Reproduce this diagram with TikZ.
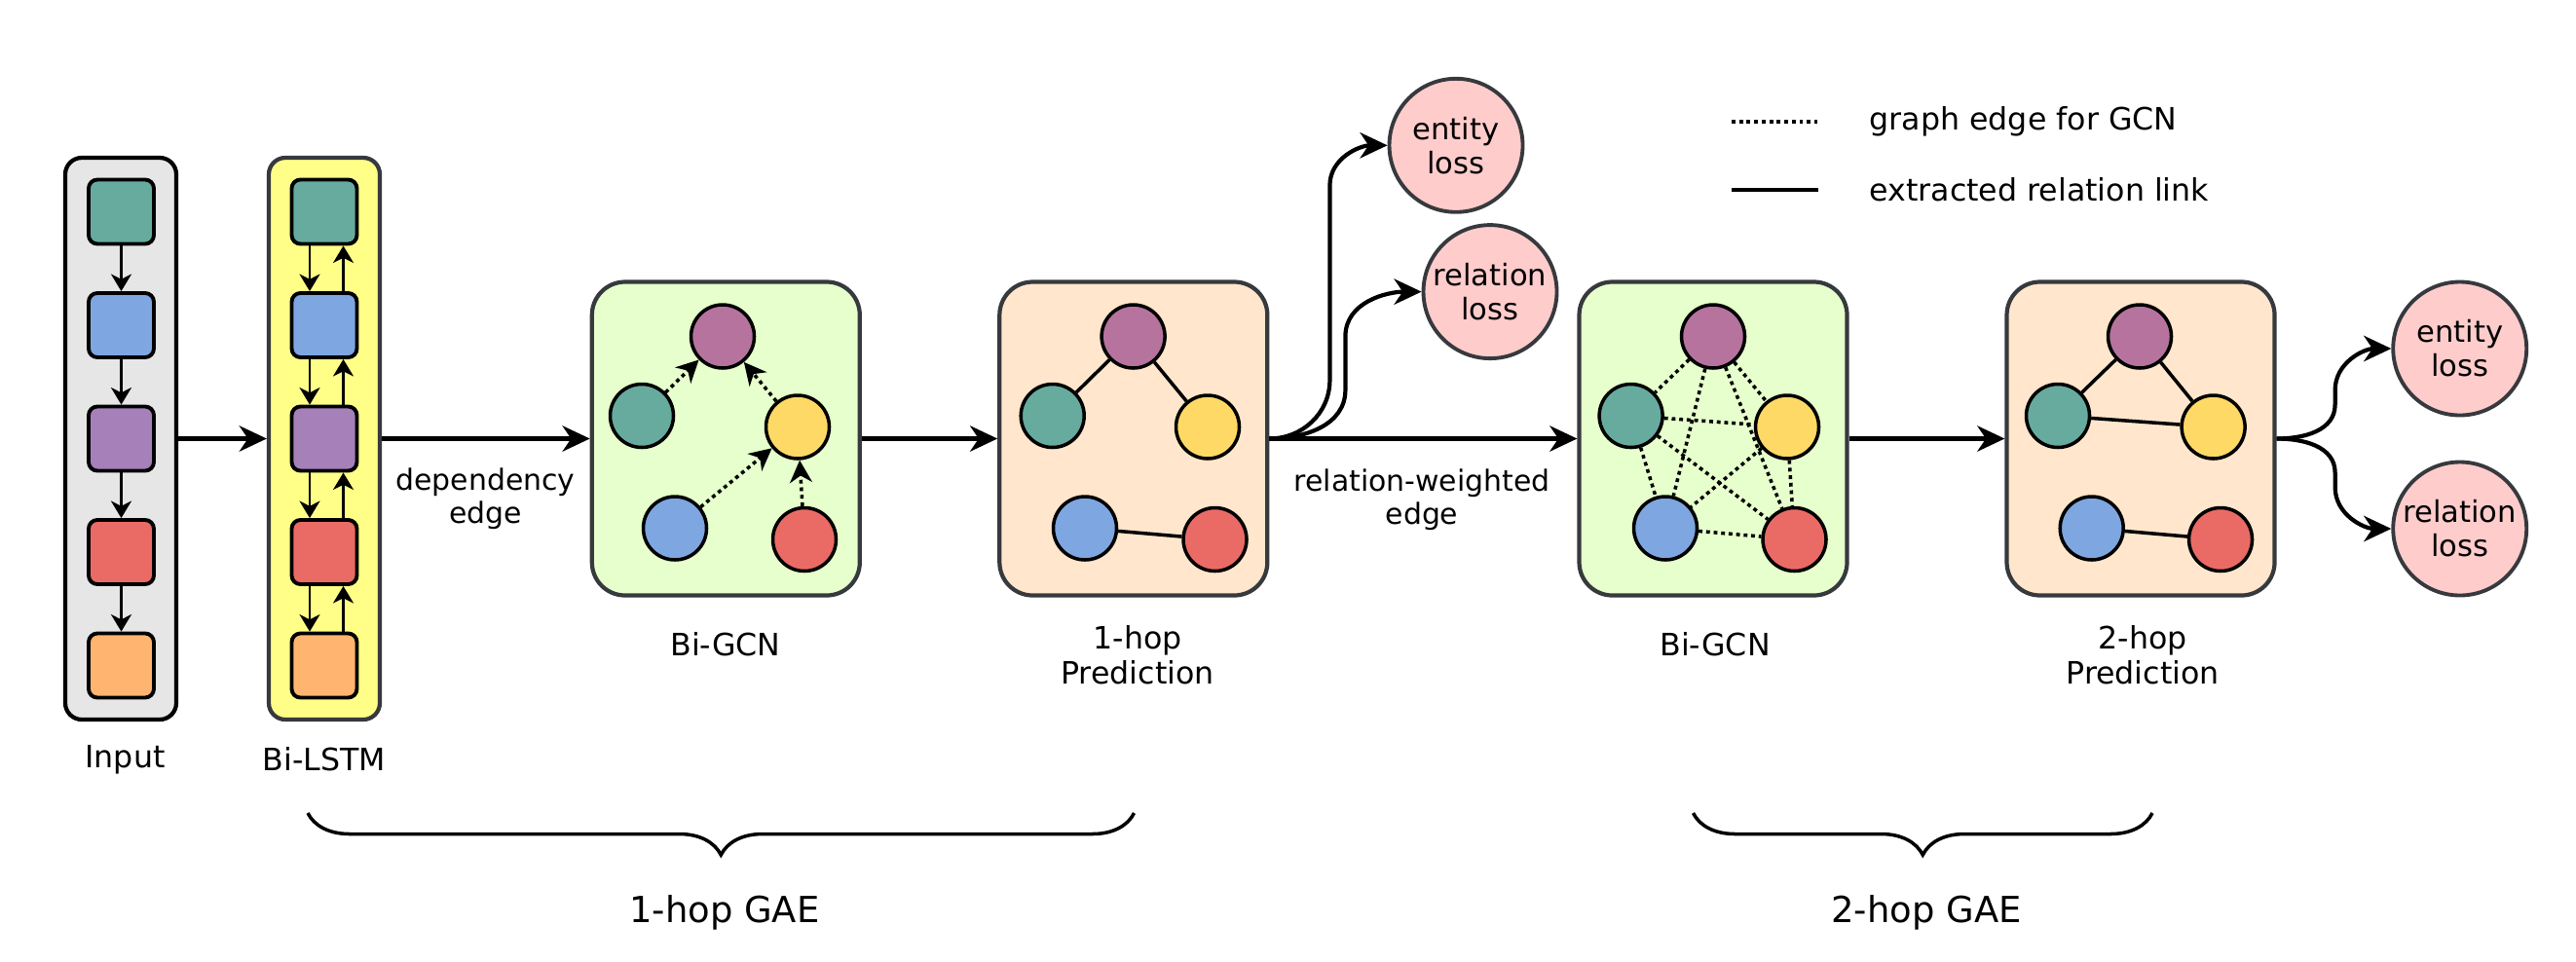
\documentclass[tikz,border=0pt]{standalone}
\usepackage{fontspec}
\setmainfont{DejaVu Sans}
\usepackage{xcolor}
\usepackage{tikz}
\usetikzlibrary{shapes.misc, positioning}
\usetikzlibrary{arrows.meta}
\usetikzlibrary{decorations.pathreplacing}

\definecolor{cteal}{HTML}{67AB9F}
\definecolor{cblue}{HTML}{7EA6E0}
\definecolor{cviolet}{HTML}{A680B8}
\definecolor{cpurple}{HTML}{B5739D}
\definecolor{cred}{HTML}{EA6B66}
\definecolor{corange}{HTML}{FFB570}
\definecolor{cyellow}{HTML}{FFD966}
\definecolor{cgray}{HTML}{E6E6E6}
\definecolor{clstm}{HTML}{FFFF88}
\definecolor{cgcn}{HTML}{E6FFCC}
\definecolor{cpred}{HTML}{FFE6CC}
\definecolor{closs}{HTML}{FFCCCC}
\definecolor{cframe}{HTML}{36393D}

\begin{document}
\begin{tikzpicture}
% Define styles
\tikzstyle{column} = [rectangle, rounded corners=0.17cm, draw, line width=1.2pt, minimum width=1.14cm, minimum height=5.77cm]
\tikzstyle{sq} = [rectangle, rounded corners=0.09cm, draw, line width=1.1pt, minimum width=0.67cm, minimum height=0.66cm]
\tikzstyle{stage} = [rectangle, rounded corners=0.34cm, draw=cframe, line width=1.2pt, minimum width=2.75cm, minimum height=3.22cm]
\tikzstyle{gnode} = [circle, draw, line width=1pt, minimum size=0.65cm, inner sep=0pt]
\tikzstyle{loss} = [circle, draw=cframe, fill=closs, line width=1.1pt, minimum size=1.37cm, inner sep=0pt, align=center, font=\fontsize{8.7}{10}\selectfont]
\tikzstyle{txt} = [align=center, font=\fontsize{9}{10.3}\selectfont]
\tikzstyle{edgetxt} = [align=center, font=\fontsize{8.5}{9.6}\selectfont]
\tikzstyle{gaetxt} = [font=\fontsize{10.5}{12}\selectfont]
\tikzstyle{mainarrow} = [-{Stealth[length=8pt, width=7.5pt, inset=2.5pt]}, line width=1.2pt]
\tikzstyle{smallarrow} = [-{Stealth[length=5pt, width=6pt, inset=1.5pt]}, line width=0.6pt]
\tikzstyle{gcnedge} = [line width=1pt, dash pattern=on 1.1pt off 1.1pt]
\tikzstyle{gcnarrow} = [gcnedge, -{Stealth[length=6.5pt, width=6.5pt, inset=2pt]}]
\tikzstyle{relink} = [line width=1pt]
\tikzstyle{gaebrace} = [decorate, decoration={brace, mirror, amplitude=0.43cm}, line width=1pt]
\useasboundingbox (0,0) rectangle (26.45,-9.87);
% Define nodes
\node[column, fill=cgray] (in_box) at (1.24,-4.505) {};
\node[sq, fill=cteal] (in_1) at (1.245,-2.175) {};
\node[sq, fill=cblue] (in_2) at (1.245,-3.34) {};
\node[sq, fill=cviolet] (in_3) at (1.245,-4.505) {};
\node[sq, fill=cred] (in_4) at (1.245,-5.67) {};
\node[sq, fill=corange] (in_5) at (1.245,-6.835) {};
\node[column, draw=cframe, fill=clstm] (lstm_box) at (3.33,-4.505) {};
\node[sq, fill=cteal] (l_1) at (3.33,-2.175) {};
\node[sq, fill=cblue] (l_2) at (3.33,-3.34) {};
\node[sq, fill=cviolet] (l_3) at (3.33,-4.505) {};
\node[sq, fill=cred] (l_4) at (3.33,-5.67) {};
\node[sq, fill=corange] (l_5) at (3.33,-6.835) {};
\node[txt] (in_txt) at (1.285,-7.8) {Input};
\node[txt] (lstm_txt) at (3.33,-7.8) {Bi-LSTM};
\node[edgetxt] (dep_txt) at (4.985,-5.12) {dependency\\edge};
\node[stage, fill=cgcn] (gcn_1) at (7.453,-4.505) {};
\node[gnode, fill=cpurple] (g1_p) at (7.42,-3.455) {};
\node[gnode, fill=cteal] (g1_t) at (6.59,-4.27) {};
\node[gnode, fill=cyellow] (g1_y) at (8.19,-4.385) {};
\node[gnode, fill=cblue] (g1_b) at (6.93,-5.425) {};
\node[gnode, fill=cred] (g1_r) at (8.26,-5.54) {};
\node[txt] (gcn1_txt) at (7.45,-6.615) {Bi-GCN};
\node[stage, fill=cpred] (pred_1) at (11.638,-4.505) {};
\node[gnode, fill=cpurple] (p1_p) at (11.636,-3.455) {};
\node[gnode, fill=cteal] (p1_t) at (10.807,-4.27) {};
\node[gnode, fill=cyellow] (p1_y) at (12.40,-4.385) {};
\node[gnode, fill=cblue] (p1_b) at (11.14,-5.425) {};
\node[gnode, fill=cred] (p1_r) at (12.475,-5.54) {};
\node[txt] (pred1_txt) at (11.68,-6.73) {1-hop\\Prediction};
\node[loss] (eloss_1) at (14.95,-1.493) {entity\\loss};
\node[loss] (rloss_1) at (15.30,-2.996) {relation\\loss};
\node[edgetxt] (rw_txt) at (14.60,-5.13) {relation-weighted\\edge};
\node[stage, fill=cgcn] (gcn_2) at (17.59,-4.505) {};
\node[gnode, fill=cpurple] (g2_p) at (17.59,-3.455) {};
\node[gnode, fill=cteal] (g2_t) at (16.746,-4.27) {};
\node[gnode, fill=cyellow] (g2_y) at (18.35,-4.385) {};
\node[gnode, fill=cblue] (g2_b) at (17.10,-5.425) {};
\node[gnode, fill=cred] (g2_r) at (18.425,-5.54) {};
\node[txt] (gcn2_txt) at (17.61,-6.615) {Bi-GCN};
\node[stage, fill=cpred] (pred_2) at (21.98,-4.505) {};
\node[gnode, fill=cpurple] (p2_p) at (21.97,-3.455) {};
\node[gnode, fill=cteal] (p2_t) at (21.13,-4.27) {};
\node[gnode, fill=cyellow] (p2_y) at (22.726,-4.385) {};
\node[gnode, fill=cblue] (p2_b) at (21.477,-5.425) {};
\node[gnode, fill=cred] (p2_r) at (22.80,-5.54) {};
\node[txt] (pred2_txt) at (22.0,-6.73) {2-hop\\Prediction};
\node[loss] (eloss_2) at (25.257,-3.58) {entity\\loss};
\node[loss] (rloss_2) at (25.257,-5.43) {relation\\loss};
% Legend
\coordinate (leg_a) at (17.78,-1.25);
\coordinate (leg_b) at (18.66,-1.25);
\coordinate (leg_c) at (17.78,-1.95);
\coordinate (leg_d) at (18.67,-1.95);
\node[txt, anchor=west, inner sep=0pt] (leg_gcn) at (19.19,-1.25) {graph edge for GCN};
\node[txt, anchor=west, inner sep=0pt] (leg_rel) at (19.19,-1.95) {extracted relation link};
% Braces
\coordinate (br1_a) at (3.16,-8.35);
\coordinate (br1_b) at (11.645,-8.35);
\coordinate (br2_a) at (17.385,-8.35);
\coordinate (br2_b) at (22.10,-8.35);
\node[gaetxt] (gae_1) at (7.44,-9.37) {1-hop GAE};
\node[gaetxt] (gae_2) at (19.78,-9.37) {2-hop GAE};
% Connect the nodes
\draw[smallarrow] (in_1) -- (in_2);
\draw[smallarrow] (in_2) -- (in_3);
\draw[smallarrow] (in_3) -- (in_4);
\draw[smallarrow] (in_4) -- (in_5);
\draw[smallarrow] ([xshift=-0.15cm]l_1.south) -- ([xshift=-0.15cm]l_2.north);
\draw[smallarrow] ([xshift=-0.15cm]l_2.south) -- ([xshift=-0.15cm]l_3.north);
\draw[smallarrow] ([xshift=-0.15cm]l_3.south) -- ([xshift=-0.15cm]l_4.north);
\draw[smallarrow] ([xshift=-0.15cm]l_4.south) -- ([xshift=-0.15cm]l_5.north);
\draw[smallarrow] ([xshift=0.195cm]l_2.north) -- ([xshift=0.195cm]l_1.south);
\draw[smallarrow] ([xshift=0.195cm]l_3.north) -- ([xshift=0.195cm]l_2.south);
\draw[smallarrow] ([xshift=0.195cm]l_4.north) -- ([xshift=0.195cm]l_3.south);
\draw[smallarrow] ([xshift=0.195cm]l_5.north) -- ([xshift=0.195cm]l_4.south);
\draw[mainarrow] (in_box) -- (lstm_box);
\draw[mainarrow] (lstm_box) -- (gcn_1);
\draw[mainarrow] (gcn_1) -- (pred_1);
\draw[mainarrow] (pred_1) -- (gcn_2);
\draw[mainarrow] (gcn_2) -- (pred_2);
\draw[gcnarrow] (g1_t) -- (g1_p);
\draw[gcnarrow] (g1_y) -- (g1_p);
\draw[gcnarrow] (g1_b) -- (g1_y);
\draw[gcnarrow] (g1_r) -- (g1_y);
\draw[relink] (p1_t) -- (p1_p);
\draw[relink] (p1_p) -- (p1_y);
\draw[relink] (p1_b) -- (p1_r);
\draw[gcnedge] (g2_p) -- (g2_t);
\draw[gcnedge] (g2_p) -- (g2_y);
\draw[gcnedge] (g2_p) -- (g2_b);
\draw[gcnedge] (g2_p) -- (g2_r);
\draw[gcnedge] (g2_t) -- (g2_y);
\draw[gcnedge] (g2_t) -- (g2_b);
\draw[gcnedge] (g2_t) -- (g2_r);
\draw[gcnedge] (g2_y) -- (g2_b);
\draw[gcnedge] (g2_y) -- (g2_r);
\draw[gcnedge] (g2_b) -- (g2_r);
\draw[relink] (p2_t) -- (p2_p);
\draw[relink] (p2_p) -- (p2_y);
\draw[relink] (p2_t) -- (p2_y);
\draw[relink] (p2_b) -- (p2_r);
\draw[mainarrow] (pred_1.east) to[out=0,in=-90] ++(0.62,0.6) -- ++(0,2.0) to[out=90,in=180] (eloss_1.west);
\draw[mainarrow] (pred_1.east) to[out=0,in=-90] ++(0.78,0.5) -- ++(0,0.55) to[out=90,in=180] (rloss_1.west);
\draw[mainarrow] (pred_2.east) to[out=0,in=-90] ++(0.6,0.35) -- ++(0,0.15) to[out=90,in=180] (eloss_2.west);
\draw[mainarrow] (pred_2.east) to[out=0,in=90] ++(0.6,-0.35) -- ++(0,-0.15) to[out=-90,in=180] (rloss_2.west);
\draw[gcnedge] (leg_a) -- (leg_b);
\draw[relink, line width=1.2pt] (leg_c) -- (leg_d);
\draw[gaebrace] (br1_a) -- (br1_b);
\draw[gaebrace] (br2_a) -- (br2_b);
\end{tikzpicture}
\end{document}
